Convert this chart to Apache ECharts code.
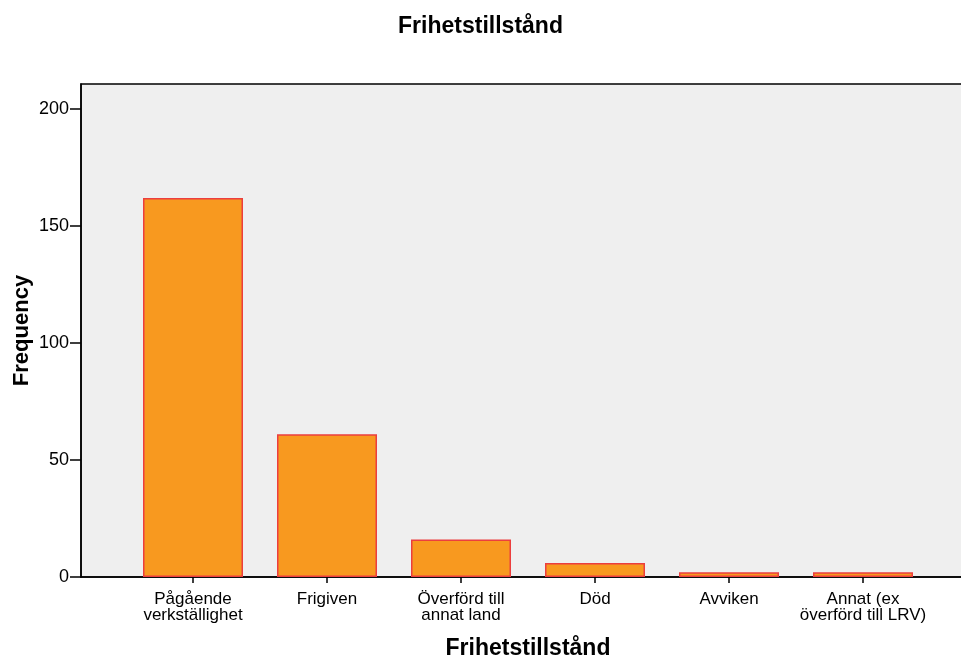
<!DOCTYPE html>
<html>
<head>
<meta charset="utf-8">
<script src="https://cdn.jsdelivr.net/npm/echarts@6/dist/echarts.min.js"></script>
<style>
  html, body { margin: 0; padding: 0; background: #fff; }
  #chart { width: 961px; height: 657px; }
</style>
</head>
<body>
<div id="chart"></div>
<script>
// Frihetstillstånd - frekvenser
var categories = ['Pågående\nverkställighet', 'Frigiven', 'Överförd till\nannat land', 'Död', 'Avviken', 'Annat (ex\növerförd till LRV)'];
var frequency = [162, 61, 16, 6, 2, 2];
var yTicks = [0, 50, 100, 150, 200];
var yMax = 210.7;

(function() {
	var chart = echarts.init(document.getElementById('chart'));
	var font = 'Liberation Sans, Arial, sans-serif';

	var option = {
		animation: false,
		textStyle: { fontFamily: font, color: '#000' },
		title: {
			text: 'Frihetstillstånd',
			left: 'center',
			top: 10,
			textStyle: { fontFamily: font, fontSize: 23, fontWeight: 'bold', color: '#000' }
		},
		grid: [
			// ram + y-axel
			{
				left: 81, right: -2, top: 84, bottom: 80,
				outerBoundsMode: 'none',
				show: true,
				backgroundColor: '#EFEFEF',
				borderColor: '#000',
				borderWidth: 1.5
			},
			// staplar
			{ left: 126, right: 31, top: 84, bottom: 80, outerBoundsMode: 'none' }
		],
		xAxis: [
			{
				gridIndex: 0,
				type: 'value',
				min: 0, max: 1,
				axisLine: { show: true, lineStyle: { color: '#000', width: 1.5 } },
				axisTick: { show: false },
				axisLabel: { show: false },
				splitLine: { show: false }
			},
			{
				gridIndex: 1,
				type: 'category',
				data: categories,
				name: 'Frihetstillstånd',
				nameLocation: 'middle',
				nameGap: 60,
				nameMoveOverlap: false,
				nameTextStyle: { fontFamily: font, fontSize: 23, fontWeight: 'bold', color: '#000' },
				axisLine: { show: false },
				axisTick: { show: true, alignWithLabel: true, length: 6, lineStyle: { color: '#000', width: 1.5 } },
				axisLabel: { fontFamily: font, fontSize: 17, color: '#000', lineHeight: 16, margin: 14, interval: 0 },
				splitLine: { show: false }
			}
		],
		yAxis: [
			{
				gridIndex: 0,
				type: 'value',
				min: 0, max: yMax,
				name: 'Frequency',
				nameLocation: 'middle',
				nameGap: 48,
				nameMoveOverlap: false,
				nameTextStyle: { fontFamily: font, fontSize: 22, fontWeight: 'bold', color: '#000' },
				axisLine: { show: true, lineStyle: { color: '#000', width: 1.5 } },
				axisTick: { show: true, length: 11, customValues: yTicks, lineStyle: { color: '#000', width: 1.5 } },
				axisLabel: { fontFamily: font, fontSize: 18, color: '#000', margin: 12, customValues: yTicks },
				splitLine: { show: false }
			},
			{
				gridIndex: 1,
				type: 'value',
				min: 0, max: yMax,
				show: false
			}
		],
		series: [
			{
				name: 'Frequency',
				type: 'bar',
				xAxisIndex: 1,
				yAxisIndex: 1,
				barWidth: 100,
				data: frequency,
				itemStyle: { color: '#F8991F', borderColor: '#EC3E3E', borderWidth: 1.5 }
			}
		]
	};

	chart.setOption(option);
})();
</script>
</body>
</html>
